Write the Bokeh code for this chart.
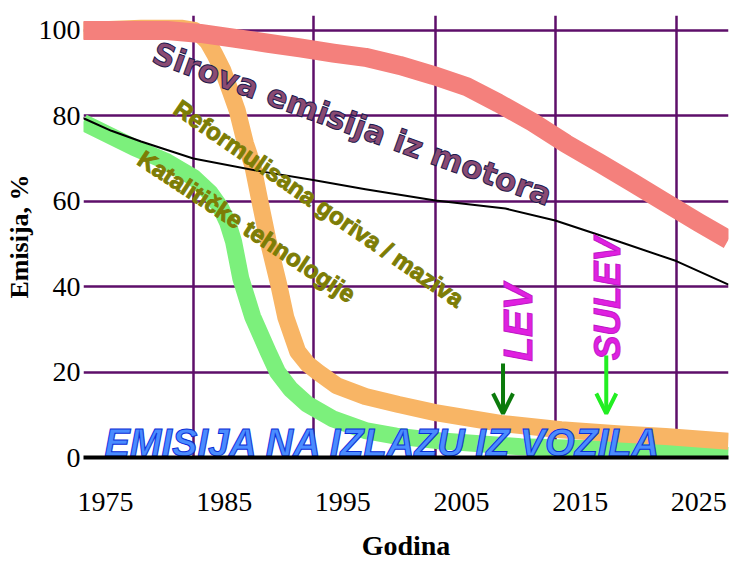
from bokeh.plotting import figure
from bokeh.models import FixedTicker, Arrow, OpenHead
from bokeh.core.properties import value
from bokeh.embed import file_html
from bokeh.resources import INLINE
import math

# ---- data ----
raw_years = [1973.1, 1980.2, 1983.0, 1985.8, 1988.7, 1991.4, 1994.2, 1996.9, 1999.8, 2002.6, 2005.4,
             2008.1, 2011.0, 2013.8, 2016.6, 2019.4, 2022.2, 2025.0, 2027.5]
raw_vals = [100.0, 100.0, 99.3, 98.2, 97.0, 95.9, 94.7, 93.7, 91.8, 89.5, 86.9,
            83.0, 78.5, 73.5, 69.0, 64.4, 59.7, 55.0, 51.0]

fuel_years = [1973.1, 1978.0, 1981.5, 1982.5, 1983.0, 1983.6, 1984.2, 1984.9, 1985.5, 1986.1, 1986.8, 1987.4,
              1988.0, 1988.7, 1989.6, 1990.2, 1991.2, 1992.0, 1992.9, 1994.5, 1996.9, 1999.7, 2002.8,
              2008.3, 2013.4, 2018.4, 2022.2, 2027.5]
fuel_vals = [100.0, 100.5, 100.5, 100.0, 99.0, 97.4, 94.5, 90.6, 86.0, 81.3, 73.5, 68.5,
             60.2, 50.8, 40.5, 32.8, 24.8, 22.0, 20.0, 16.8, 14.3, 12.4, 10.5,
             8.0, 6.5, 5.5, 4.9, 3.8]

cat_years = [1973.1, 1977.4, 1980.0, 1982.4, 1983.8, 1984.7, 1985.3, 1985.8, 1986.4, 1987.4, 1988.7,
             1989.5, 1990.6, 1992.0, 1994.2, 1996.9, 1999.5, 2002.8, 2010.0, 2016.7, 2022.2, 2027.5]
cat_vals = [78.5, 72.6, 69.5, 65.6, 62.0, 58.5, 55.0, 50.5, 42.0, 33.0, 24.8,
            20.0, 16.0, 12.5, 9.0, 6.3, 5.0, 4.0, 2.5, 2.0, 1.4, 0.5]

blk_years = [1973.1, 1975.5, 1978.0, 1982.4, 1988.1, 1992.5, 1996.9, 2002.8, 2008.7, 2012.9, 2018.0, 2023.1, 2027.5]
blk_vals = [79.5, 76.5, 74.0, 70.0, 67.0, 65.0, 62.8, 60.2, 58.3, 55.5, 50.8, 46.0, 40.5]

x_ticks = [1975, 1985, 1995, 2005, 2015, 2025]
y_ticks = [0, 20, 40, 60, 80, 100]
grid_years = [1982.4, 1992.5, 2002.8, 2012.9, 2023.1]
grid_vals = [20, 40, 60, 80, 100]

# annotations
curve_labels = ["Sirova emisija iz motora", "Reformulisana goriva / maziva", "Katalitičke tehnologije"]
curve_label_x = [1995.8, 1993.0, 1986.9]
curve_label_y = [78.2, 59.5, 54.1]
curve_label_deg = [-20, -34.5, -33.4]

std_labels = ["LEV", "SULEV"]
std_label_x = [2009.8, 2017.3]
std_label_y = [31.6, 37.2]
std_label_size = ["40px", "37px"]
arrow_x = [2008.5, 2017.2]
arrow_y0 = [22.0, 23.9]
arrow_y1 = [10.3, 10.3]
arrow_colors = ["#0b7a0b", "#22ee22"]

tail_text = ["EMISIJA NA IZLAZU IZ VOZILA"]
tail_x = [1998.4]
tail_y = [3.5]

p = figure(width=730, height=568, x_range=(1973.15, 2027.5), y_range=(0, 103.5),
           output_backend="svg", toolbar_location=None,
           min_border_left=83, min_border_right=2, min_border_top=15, min_border_bottom=111)
p.outline_line_color = None
p.background_fill_color = "white"

serif = "Liberation Serif"

# axes
p.xaxis.ticker = FixedTicker(ticks=x_ticks)
p.xaxis.major_tick_line_color = None
p.xaxis.minor_tick_line_color = None
p.xaxis.major_tick_out = 0
p.xaxis.major_tick_in = 0
p.xaxis.axis_line_color = "black"
p.xaxis.axis_line_width = 4
p.xaxis.major_label_text_font = serif
p.xaxis.major_label_text_font_style = "normal"
p.xaxis.major_label_text_font_size = "28px"
p.xaxis.major_label_text_color = "black"
p.xaxis.major_label_standoff = 35
p.xaxis.axis_label = "Godina"
p.xaxis.axis_label_text_font = serif
p.xaxis.axis_label_text_font_style = "bold"
p.xaxis.axis_label_text_font_size = "28px"
p.xaxis.axis_label_text_color = "black"
p.xaxis.axis_label_standoff = 16

p.yaxis.ticker = FixedTicker(ticks=y_ticks)
p.yaxis.major_tick_line_color = None
p.yaxis.minor_tick_line_color = None
p.yaxis.major_tick_out = 0
p.yaxis.major_tick_in = 0
p.yaxis.axis_line_color = None
p.yaxis.major_label_text_font = serif
p.yaxis.major_label_text_font_style = "normal"
p.yaxis.major_label_text_font_size = "28px"
p.yaxis.major_label_text_color = "black"
p.yaxis.major_label_standoff = 3
p.yaxis.axis_label = "Emisija, %"
p.yaxis.axis_label_text_font = serif
p.yaxis.axis_label_text_font_style = "bold"
p.yaxis.axis_label_text_font_size = "26px"
p.yaxis.axis_label_text_color = "black"
p.yaxis.axis_label_standoff = 2

# grid
p.xgrid.ticker = FixedTicker(ticks=grid_years)
p.ygrid.ticker = FixedTicker(ticks=grid_vals)
for g in (p.xgrid, p.ygrid):
    g.grid_line_color = "#5e0f6a"
    g.grid_line_width = 2.5

# curves
p.line(cat_years, cat_vals, line_width=17, line_color="#7cf07c", line_join="round")
p.line(fuel_years, fuel_vals, line_width=17, line_color="#f8b565", line_join="round")
p.line(raw_years, raw_vals, line_width=19, line_color="#f4807c", line_join="round")
p.line(blk_years, blk_vals, line_width=2, line_color="black", line_join="round")

# curve labels
p.text(x=curve_label_x[:1], y=curve_label_y[:1], text=curve_labels[:1],
       angle=[math.radians(a) for a in curve_label_deg[:1]],
       text_font=value("DejaVu Sans"), text_font_style="bold", text_font_size="31px",
       text_color="#8a4a72", text_outline_color="#1c1a4e",
       text_align="center", text_baseline="middle")
p.text(x=curve_label_x[1:], y=curve_label_y[1:], text=curve_labels[1:],
       angle=[math.radians(a) for a in curve_label_deg[1:]],
       text_font=value("Liberation Sans"), text_font_style="bold", text_font_size="24px",
       text_color="#7d7d06", text_outline_color="#7d7d06",
       text_align="center", text_baseline="middle")

# standards
p.text(x=std_label_x, y=std_label_y, text=std_labels, angle=math.pi / 2,
       text_font=value("Liberation Sans"), text_font_style="bold italic", text_font_size=std_label_size,
       text_color="#e020e0", text_outline_color="#c018c8",
       text_align="center", text_baseline="middle")
for xa, y0, y1, c in zip(arrow_x, arrow_y0, arrow_y1, arrow_colors):
    p.add_layout(Arrow(end=OpenHead(size=20, line_color=c, line_width=4),
                       x_start=xa, y_start=y0, x_end=xa, y_end=y1,
                       line_color=c, line_width=4))

p.text(x=tail_x, y=tail_y, text=tail_text,
       text_font=value("Liberation Sans"), text_font_style="bold italic", text_font_size="38px",
       text_color="#4a8cff", text_outline_color="#0b2fd8",
       text_align="center", text_baseline="alphabetic")

open("out.html", "w").write(file_html(p, INLINE))
